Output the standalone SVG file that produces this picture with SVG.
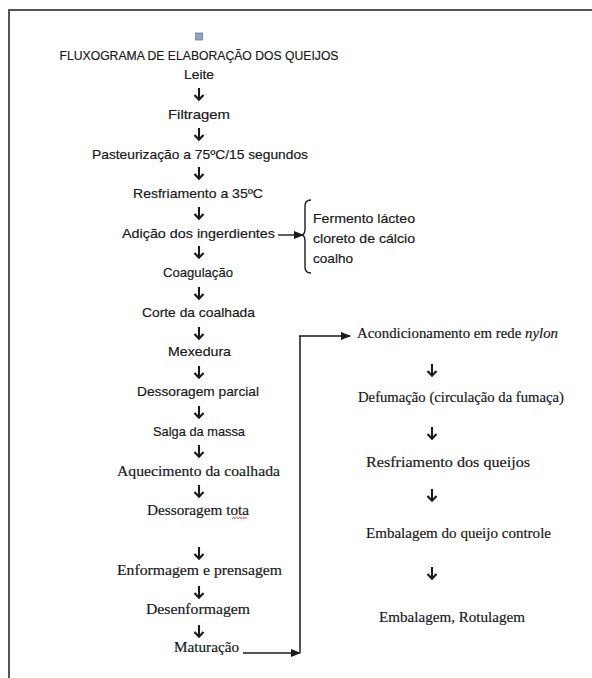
<svg xmlns="http://www.w3.org/2000/svg" width="592" height="678" viewBox="0 0 592 678">
<style>
.s{font-family:"Liberation Sans",Arial,sans-serif;font-size:13.5px;fill:#1a1a1a;stroke:#1a1a1a;stroke-width:0.2;text-anchor:middle}
.l{font-family:"Liberation Sans",Arial,sans-serif;font-size:13.5px;fill:#1a1a1a;stroke:#1a1a1a;stroke-width:0.2}
.t{font-family:"Liberation Serif","Times New Roman",serif;font-size:15px;fill:#1a1a1a;stroke:#1a1a1a;stroke-width:0.2}
.tc{font-family:"Liberation Serif","Times New Roman",serif;font-size:15px;fill:#1a1a1a;stroke:#1a1a1a;stroke-width:0.2;text-anchor:middle}
.ln{stroke:#1a1a1a;stroke-width:1.4;fill:none}
.gr{stroke:#555;stroke-width:2;fill:none}
</style>
<defs>
<path id="down" d="M0,-6 V5.5 M-4.5,1 L0,5.8 L4.5,1" stroke="#1a1a1a" stroke-width="2.1" fill="none"/>
<marker id="ah" viewBox="0 0 10 10" refX="9" refY="5" markerWidth="10" markerHeight="10" markerUnits="userSpaceOnUse" orient="auto">
<path d="M0,1 L10,5 L0,9 z" fill="#1a1a1a"/>
</marker>
</defs>
<rect width="592" height="678" fill="#fff"/>
<path class="gr" d="M9,678 V10 H592"/>
<rect x="195.5" y="33" width="7" height="7" fill="#8fa3c2" stroke="#6a80a6" stroke-width="0.8"/>
<g id="title"><text class="s" x="199" y="60" textLength="279" lengthAdjust="spacingAndGlyphs">FLUXOGRAMA DE ELABORAÇÃO DOS QUEIJOS</text></g>
<g id="leite"><text class="s" x="199" y="79" textLength="30" lengthAdjust="spacingAndGlyphs">Leite</text></g>
<g id="filtragem"><text class="s" x="199" y="119" textLength="62" lengthAdjust="spacingAndGlyphs">Filtragem</text></g>
<g id="pasteurizacao"><text class="s" x="200" y="159" textLength="216" lengthAdjust="spacingAndGlyphs">Pasteurização a 75ºC/15 segundos</text></g>
<g id="resfriamento"><text class="s" x="198" y="198" textLength="130" lengthAdjust="spacingAndGlyphs">Resfriamento a 35ºC</text></g>
<g id="adicao"><text class="s" x="198.5" y="238" textLength="153" lengthAdjust="spacingAndGlyphs">Adição dos ingerdientes</text></g>
<g id="ingredientes">
<path class="ln" d="M311,200 Q305,200 305,206 V229 Q305,235 301,235 Q305,235 305,241 V267 Q305,273 311,273"/>
<text class="l" x="313" y="223" textLength="102" lengthAdjust="spacingAndGlyphs">Fermento lácteo</text>
<text class="l" x="313" y="243" textLength="102" lengthAdjust="spacingAndGlyphs">cloreto de cálcio</text>
<text class="l" x="313" y="263" textLength="40" lengthAdjust="spacingAndGlyphs">coalho</text>
</g>
<g id="coagulacao"><text class="s" x="198" y="277" textLength="70" lengthAdjust="spacingAndGlyphs">Coagulação</text></g>
<g id="corte"><text class="s" x="198.5" y="317" textLength="113" lengthAdjust="spacingAndGlyphs">Corte da coalhada</text></g>
<g id="mexedura"><text class="s" x="199.5" y="356" textLength="63" lengthAdjust="spacingAndGlyphs">Mexedura</text></g>
<g id="dessoragem-parcial"><text class="s" x="198" y="396" textLength="122" lengthAdjust="spacingAndGlyphs">Dessoragem parcial</text></g>
<g id="salga"><text class="s" x="199" y="436" textLength="92" lengthAdjust="spacingAndGlyphs">Salga da massa</text></g>
<g id="aquecimento"><text class="tc" x="198.5" y="476" textLength="163" lengthAdjust="spacingAndGlyphs">Aquecimento da coalhada</text></g>
<g id="dessoragem-total"><text class="tc" x="198" y="515" textLength="102" lengthAdjust="spacingAndGlyphs">Dessoragem tota</text>
<path d="M232,518.5 l1.5,-1.2 l1.5,1.2 l1.5,-1.2 l1.5,1.2 l1.5,-1.2 l1.5,1.2 l1.5,-1.2 l1.5,1.2 l1.5,-1.2 l1.5,1.2" stroke="#e02020" stroke-width="0.9" fill="none"/></g>
<g id="enformagem"><text class="tc" x="199.5" y="575" textLength="165" lengthAdjust="spacingAndGlyphs">Enformagem e prensagem</text></g>
<g id="desenformagem"><text class="tc" x="198" y="614" textLength="104" lengthAdjust="spacingAndGlyphs">Desenformagem</text></g>
<g id="maturacao"><text class="tc" x="206.5" y="652" textLength="65" lengthAdjust="spacingAndGlyphs">Maturação</text></g>
<g id="acondicionamento"><text class="t" x="357" y="338" textLength="201" lengthAdjust="spacingAndGlyphs">Acondicionamento em rede <tspan font-style="italic">nylon</tspan></text></g>
<g id="defumacao"><text class="t" x="358" y="402" textLength="206" lengthAdjust="spacingAndGlyphs">Defumação (circulação da fumaça)</text></g>
<g id="resfriamento-queijos"><text class="t" x="366" y="467" textLength="164" lengthAdjust="spacingAndGlyphs">Resfriamento dos queijos</text></g>
<g id="embalagem-controle"><text class="t" x="366" y="538" textLength="185" lengthAdjust="spacingAndGlyphs">Embalagem do queijo controle</text></g>
<g id="embalagem-rotulagem"><text class="t" x="379" y="622" textLength="146" lengthAdjust="spacingAndGlyphs">Embalagem, Rotulagem</text></g>
<g id="connectors">
<use href="#down" x="199" y="94"/>
<use href="#down" x="199" y="134"/>
<use href="#down" x="199" y="173"/>
<use href="#down" x="199" y="213"/>
<use href="#down" x="199" y="252"/>
<use href="#down" x="199" y="293"/>
<use href="#down" x="199" y="333"/>
<use href="#down" x="199" y="372"/>
<use href="#down" x="199" y="412"/>
<use href="#down" x="199" y="451"/>
<use href="#down" x="199" y="491"/>
<use href="#down" x="199" y="553"/>
<use href="#down" x="199" y="592"/>
<use href="#down" x="199" y="631"/>
<use href="#down" x="432" y="370"/>
<use href="#down" x="432" y="433"/>
<use href="#down" x="432" y="495"/>
<use href="#down" x="432" y="573"/>
<path class="ln" d="M278,235 H303" marker-end="url(#ah)"/>
<path class="ln" d="M243,653 H300" marker-end="url(#ah)"/>
<path d="M300,653 V336" stroke="#555" stroke-width="2" fill="none"/>
<path class="ln" d="M299,336 H350" marker-end="url(#ah)"/>
</g>
</svg>
